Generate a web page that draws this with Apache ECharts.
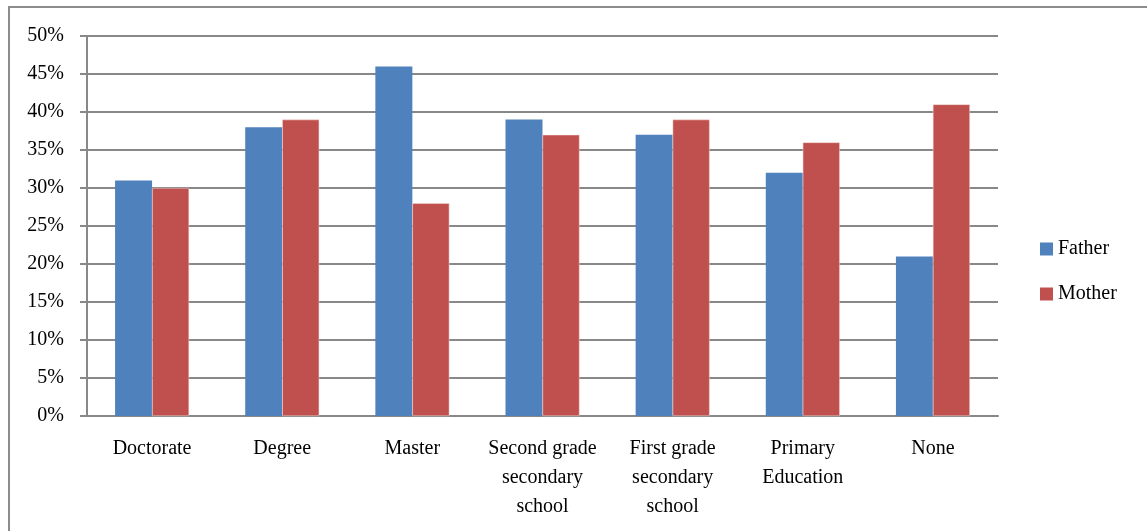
<!DOCTYPE html>
<html>
<head>
<meta charset="utf-8">
<script src="https://cdn.jsdelivr.net/npm/echarts@6/dist/echarts.min.js"></script>
<style>
  html, body { margin: 0; padding: 0; background: #fff; }
  #frame { position: absolute; left: 8px; top: 6px; width: 1145px; height: 540px; border: 2px solid #8c8c8c; box-sizing: border-box; }
  #chart { position: absolute; left: 0; top: 0; width: 1147px; height: 531px; }
</style>
</head>
<body>
<div id="frame"></div>
<div id="chart"></div>
<script>
const categories = ['Doctorate', 'Degree', 'Master', 'Second grade\nsecondary\nschool', 'First grade\nsecondary\nschool', 'Primary\nEducation', 'None'];
const fatherValues = [31, 38, 46, 39, 37, 32, 21];
const motherValues = [30, 39, 28, 37, 39, 36, 41];
const yTicks = [0, 5, 10, 15, 20, 25, 30, 35, 40, 45, 50];

const font = '"Liberation Serif", "DejaVu Serif", serif';

echarts.init(document.getElementById('chart')).setOption({
    animation: false,
    textStyle: { fontFamily: font },
    grid: { left: 87, right: 149, top: 36, bottom: 115 },
    legend: {
        orient: 'vertical',
        left: 1035,
        top: 234,
        itemWidth: 13,
        itemHeight: 13,
        itemGap: 25,
        icon: 'rect',
        itemStyle: { borderWidth: 0 },
        textStyle: { fontFamily: font, fontSize: 20, color: '#000' },
        data: ['Father', 'Mother'],
    },
    xAxis: {
        type: 'category',
        data: categories,
        axisLine: { lineStyle: { color: '#888', width: 2 } },
        axisTick: { show: false },
        axisLabel: { color: '#000', fontSize: 20, lineHeight: 29, margin: 18, interval: 0 },
    },
    yAxis: {
        type: 'value',
        min: yTicks[0],
        max: yTicks[yTicks.length - 1],
        interval: 5,
        axisLine: { show: true, lineStyle: { color: '#888', width: 2 } },
        axisTick: { show: true, length: 7, lineStyle: { color: '#888', width: 2 } },
        axisLabel: { color: '#000', fontSize: 20, margin: 23, formatter: '{value}%' },
        splitLine: { lineStyle: { color: '#888', width: 2 } },
    },
    series: [
        {
            name: 'Father',
            type: 'bar',
            data: fatherValues,
            barWidth: 37,
            barGap: '0%',
            itemStyle: { color: '#4F81BD' },
        },
        {
            name: 'Mother',
            type: 'bar',
            data: motherValues,
            barWidth: 37,
            itemStyle: { color: '#C0504D', borderColor: '#f2dcdb', borderWidth: 0.5 },
        },
    ],
});
</script>
</body>
</html>
